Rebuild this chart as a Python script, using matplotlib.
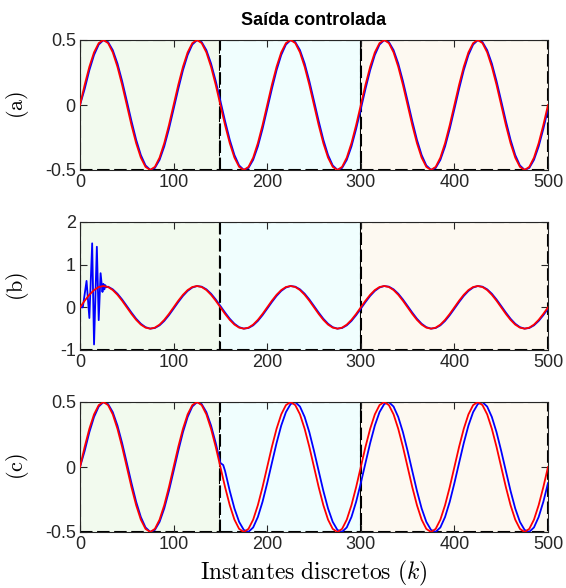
import matplotlib
matplotlib.use("Agg")
import matplotlib.pyplot as plt

# discrete instants (every 5 samples)
k_grid = list(range(0, 501, 5))

# reference signal (red), read every 5 samples
ref = [
    0.0, 0.155, 0.294, 0.405, 0.476, 0.5, 0.476, 0.405, 0.294, 0.155,
    0.0, -0.155, -0.294, -0.405, -0.476, -0.5, -0.476, -0.405, -0.294, -0.155,
    0.0, 0.155, 0.294, 0.405, 0.476, 0.5, 0.476, 0.405, 0.294, 0.155,
    0.0, -0.155, -0.294, -0.405, -0.476, -0.5, -0.476, -0.405, -0.294, -0.155,
    0.0, 0.155, 0.294, 0.405, 0.476, 0.5, 0.476, 0.405, 0.294, 0.155,
    0.0, -0.155, -0.294, -0.405, -0.476, -0.5, -0.476, -0.405, -0.294, -0.155,
    0.0, 0.155, 0.294, 0.405, 0.476, 0.5, 0.476, 0.405, 0.294, 0.155,
    0.0, -0.155, -0.294, -0.405, -0.476, -0.5, -0.476, -0.405, -0.294, -0.155,
    0.0, 0.155, 0.294, 0.405, 0.476, 0.5, 0.476, 0.405, 0.294, 0.155,
    0.0, -0.155, -0.294, -0.405, -0.476, -0.5, -0.476, -0.405, -0.294, -0.155,
    0.0,
]

# controlled output (a), blue, slightly behind the reference
out_a = [
    0.0, 0.124, 0.268, 0.385, 0.465, 0.499, 0.484, 0.422, 0.319, 0.184,
    0.031, -0.124, -0.268, -0.385, -0.465, -0.499, -0.484, -0.422, -0.319, -0.184,
    -0.031, 0.124, 0.268, 0.385, 0.465, 0.499, 0.484, 0.422, 0.319, 0.184,
    0.031, -0.124, -0.268, -0.385, -0.465, -0.499, -0.484, -0.422, -0.319, -0.184,
    -0.031, 0.124, 0.268, 0.385, 0.465, 0.499, 0.484, 0.422, 0.319, 0.184,
    0.031, -0.124, -0.268, -0.385, -0.465, -0.499, -0.484, -0.422, -0.319, -0.184,
    -0.031, 0.124, 0.268, 0.385, 0.465, 0.499, 0.484, 0.422, 0.319, 0.184,
    0.031, -0.124, -0.268, -0.385, -0.465, -0.499, -0.484, -0.422, -0.319, -0.184,
    -0.031, 0.124, 0.268, 0.385, 0.465, 0.499, 0.484, 0.422, 0.319, 0.184,
    0.031, -0.124, -0.268, -0.385, -0.465, -0.499, -0.484, -0.422, -0.319, -0.184,
    -0.031,
]

# output (b): initial transient, then tracking
k_b_start = [0, 3, 7, 10, 13, 15, 18, 20, 22, 24, 25, 26, 27, 28]
out_b_start = [0.0, 0.0, 0.62, -0.25, 1.5, -0.87, 1.42, -0.3, 0.8, 0.36, 0.55, 0.42, 0.52, 0.47]

# output (c): lagging more after k = 150
k_c_kink = [153]
out_c_kink = [0.015]
out_c_tail = [
    -0.031, -0.184, -0.319, -0.422, -0.484, -0.499, -0.465, -0.385, -0.268,
    -0.124, 0.031, 0.184, 0.319, 0.422, 0.484, 0.499, 0.465, 0.385, 0.268,
    0.124, -0.031, -0.184, -0.319, -0.422, -0.484, -0.499, -0.465, -0.385, -0.268,
    -0.124, 0.031, 0.184, 0.319, 0.422, 0.484, 0.499, 0.465, 0.385, 0.268,
    0.124, -0.031, -0.184, -0.319, -0.422, -0.484, -0.499, -0.465, -0.385, -0.268,
    -0.124, 0.031, 0.184, 0.319, 0.422, 0.484, 0.499, 0.465, 0.385, 0.268,
    0.124, -0.031, -0.184, -0.319, -0.422, -0.484, -0.499, -0.465, -0.385, -0.268,
    -0.124,
]

regions = [(0, 150), (150, 300), (300, 500)]
region_colors = ["#f2faee", "#f0fefe", "#fdf9f1"]
panel_labels = ["(a)", "(b)", "(c)"]

k_b = k_b_start + k_grid[6:]
out_b = out_b_start + out_a[6:]
k_c = k_grid[:31] + k_c_kink + k_grid[31:]
out_c = out_a[:31] + out_c_kink + out_c_tail

plt.rcParams["font.family"] = ["Liberation Sans", "DejaVu Sans"]
plt.rcParams["mathtext.fontset"] = "cm"
plt.rcParams["axes.unicode_minus"] = False

fig = plt.figure(figsize=(5.66, 5.88), dpi=100)
gray = "#262626"
left, width = 80 / 566, 468 / 566
boxes = [(40, 170), (222, 350), (402, 532)]

series = [(k_grid, out_a), (k_b, out_b), (k_c, out_c)]
for i, (top, bot) in enumerate(boxes):
    ax = fig.add_axes([left, 1 - bot / 588, width, (bot - top) / 588])
    for (x0, x1), c in zip(regions, region_colors):
        ax.axvspan(x0, x1, facecolor=c, edgecolor="black", linestyle=(0, (6, 2.2)),
                   linewidth=1.5, zorder=0.5)
    kb, yb = series[i]
    ax.plot(kb, yb, color="blue", lw=1.3, zorder=2)
    ax.plot(k_grid, ref, color="red", lw=1.3, zorder=3)
    ax.set_xlim(0, 500)
    ax.set_xticks([0, 100, 200, 300, 400, 500])
    if i == 1:
        ax.set_ylim(-1, 2)
        ax.set_yticks([-1, 0, 1, 2])
    else:
        ax.set_ylim(-0.5, 0.5)
        ax.set_yticks([-0.5, 0, 0.5])
        ax.set_yticklabels(["-0.5", "0", "0.5"])
    ax.tick_params(direction="in", top=True, right=True, length=5, width=0.8,
                   labelsize=13, colors=gray, labelcolor=gray, pad=3)
    for s in ax.spines.values():
        s.set_color(gray)
        s.set_linewidth(0.8)
    ax.set_ylabel(r"$\mathrm{" + panel_labels[i] + "}$", fontsize=16)
    ax.yaxis.set_label_coords(-0.105, 0.5)
    if i == 0:
        ax.set_title("Saída controlada", fontsize=13, fontweight="bold", pad=11)
    if i == 2:
        ax.set_xlabel(r"$\mathrm{Instantes\ discretos}\ (k)$", fontsize=17, labelpad=4)

fig.savefig("out.png", dpi=100)
